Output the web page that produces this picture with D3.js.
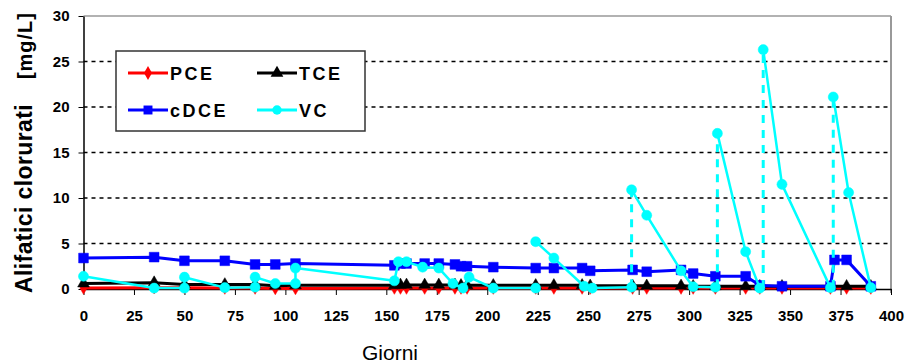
<!DOCTYPE html>
<html>
<head>
<meta charset="utf-8">
<script src="https://cdn.jsdelivr.net/npm/d3@7"></script>
<style>
  html, body { margin: 0; padding: 0; background: #fff; }
  svg { display: block; font-family: "Liberation Sans", Arial, sans-serif; }
</style>
</head>
<body>
<svg id="chart" width="909" height="364"></svg>
<script>
// ---- Data ----
const xTicks = [0, 25, 50, 75, 100, 125, 150, 175, 200, 225, 250, 275, 300, 325, 350, 375, 400];
const yTicks = [0, 5, 10, 15, 20, 25, 30];

const pceDays   = [0, 35, 50, 70, 85, 95, 105, 154, 157, 160, 169, 176, 184, 187, 190, 203, 224, 233, 247, 251, 272, 279, 296, 302, 313, 328, 335, 346, 370, 378, 390];
const pceValues = [0.1, 0.15, 0.15, 0.1, 0.1, 0.05, 0.05, 0.1, 0.1, 0.1, 0.1, 0.1, 0.1, 0.1, 0.1, 0.1, 0.1, 0.1, 0.1, 0.1, 0.1, 0.1, 0.1, 0.1, 0.1, 0.1, 0.1, 0.1, 0.1, 0.1, 0.1];

const tceDays   = [0, 35, 50, 70, 85, 95, 105, 154, 157, 160, 169, 176, 184, 187, 190, 203, 224, 233, 247, 251, 272, 279, 296, 302, 313, 328, 335, 346, 370, 378, 390];
const tceValues = [0.6, 0.7, 0.5, 0.5, 0.5, 0.35, 0.4, 0.4, 0.45, 0.45, 0.45, 0.45, 0.45, 0.4, 0.4, 0.4, 0.4, 0.4, 0.4, 0.35, 0.35, 0.35, 0.35, 0.3, 0.3, 0.3, 0.3, 0.3, 0.3, 0.3, 0.3];

const cdceDays   = [0, 35, 50, 70, 85, 95, 105, 154, 157, 160, 169, 176, 184, 187, 190, 203, 224, 233, 247, 251, 272, 279, 296, 302, 313, 328, 335, 346, 370, 372, 378, 390];
const cdceValues = [3.4, 3.5, 3.1, 3.1, 2.7, 2.7, 2.8, 2.6, 2.8, 2.8, 2.8, 2.8, 2.7, 2.5, 2.5, 2.4, 2.3, 2.3, 2.3, 2.0, 2.1, 1.9, 2.1, 1.7, 1.4, 1.4, 0.4, 0.3, 0.3, 3.2, 3.2, 0.3];

// VC: null values break the solid line
const vcDays   = [0, 35, 50, 50, 70, 85, 85, 95, 105, 105, 154, 156, 160, 168, 176, 183, 188, 191, 203, 224,
                  224, 224, 233, 248, 252, 271.5,
                  271.5, 271.5, 279, 296, 302, 313,
                  314, 314, 328, 335,
                  336.7, 336.7, 346, 370,
                  371.4, 371.4, 379, 390];
const vcValues = [1.4, 0.1, 0.1, 1.3, 0.15, 0.2, 1.3, 0.6, 0.6, 2.3, 0.9, 3.0, 3.0, 2.4, 2.3, 0.6, 0.1, 1.3, 0.1, 0.1,
                  null, 5.2, 3.4, 0.3, 0.1, 0.2,
                  null, 10.9, 8.1, 2.0, 0.25, 0.2,
                  null, 17.1, 4.1, 0.1,
                  null, 26.3, 11.5, 0.15,
                  null, 21.1, 10.6, 0.15];

// VC jumps drawn as dashed verticals
const vcJumpDays = [271.5, 314, 336.7, 371.4];
const vcJumpLow  = [0.2, 0.2, 0.1, 0.15];
const vcJumpHigh = [10.9, 17.1, 26.3, 21.1];

const seriesNames = ["PCE", "TCE", "cDCE", "VC"];

// ---- Layout ----
const svg = d3.select("#chart");
const mLeft = 83.5, mRight = 891, mTop = 16, mBottom = 289;
const x = d3.scaleLinear().domain([0, 400]).range([mLeft, mRight]);
const y = d3.scaleLinear().domain([0, 30]).range([mBottom, mTop]);

const zip = (a, b) => a.map((d, i) => ({ x: d, y: b[i] }));

// gridlines
svg.append("g").selectAll("line")
  .data(yTicks.filter(t => t > 0 && t < 30))
  .join("line")
  .attr("x1", mLeft).attr("x2", mRight)
  .attr("y1", d => y(d)).attr("y2", d => y(d))
  .attr("stroke", "#000").attr("stroke-width", 1.3)
  .attr("stroke-dasharray", "4,4");

// top & right border (gray)
svg.append("line").attr("x1", mLeft).attr("x2", mRight).attr("y1", y(30)).attr("y2", y(30))
  .attr("stroke", "#999").attr("stroke-width", 1.5);
svg.append("line").attr("x1", mRight).attr("x2", mRight).attr("y1", y(30)).attr("y2", mBottom + 4)
  .attr("stroke", "#999").attr("stroke-width", 2);

// axes
const xAxis = d3.axisBottom(x).tickValues(xTicks).tickSize(6).tickSizeOuter(0).tickPadding(15);
const yAxis = d3.axisLeft(y).tickValues(yTicks).tickSize(5).tickSizeOuter(0).tickPadding(9);

const gx = svg.append("g").attr("transform", `translate(0,${mBottom})`).call(xAxis);
const gy = svg.append("g").attr("transform", `translate(${mLeft},0)`).call(yAxis);
[gx, gy].forEach(g => {
  g.select(".domain").attr("stroke", "#000").attr("stroke-width", 1.5);
  g.selectAll(".tick line").attr("stroke", "#000").attr("stroke-width", 1);
  g.selectAll(".tick text").attr("fill", "#000").attr("font-weight", "bold")
    .attr("font-family", "'Liberation Sans', Arial, sans-serif");
});
gx.selectAll(".tick text").attr("font-size", 15);
gy.selectAll(".tick text").attr("font-size", 15);

// axis titles
svg.append("text").attr("x", 390).attr("y", 360).attr("text-anchor", "middle")
  .attr("font-size", 21).attr("fill", "#000").text("Giorni");
svg.append("text").attr("transform", `translate(32,293) rotate(-90)`)
  .attr("text-anchor", "start").attr("font-size", 23).attr("font-weight", "bold")
  .attr("fill", "#000").attr("letter-spacing", 0.4)
  .text("Alifatici clorurati");
svg.append("text").attr("transform", `translate(32,12) rotate(-90)`)
  .attr("text-anchor", "end").attr("font-size", 20).attr("font-weight", "bold")
  .attr("fill", "#000").attr("letter-spacing", 1)
  .text("[mg/L]");

// ---- Series ----
const line = d3.line().defined(d => d.y !== null).x(d => x(d.x)).y(d => y(d.y));
const plot = svg.append("g");

function drawLine(data, color, width) {
  plot.append("path").datum(data).attr("d", line)
    .attr("fill", "none").attr("stroke", color).attr("stroke-width", width)
    .attr("stroke-linejoin", "round");
}
function drawMarkers(data, type, size, color) {
  plot.append("g").selectAll("path").data(data.filter(d => d.y !== null)).join("path")
    .attr("transform", d => `translate(${x(d.x)},${y(d.y)})`)
    .attr("d", d3.symbol().type(type).size(size))
    .attr("fill", color).attr("stroke", color).attr("stroke-width", 0.5);
}

const pce = zip(pceDays, pceValues);
const tce = zip(tceDays, tceValues);
const cdce = zip(cdceDays, cdceValues);
const vc = zip(vcDays, vcValues);

drawLine(pce, "#ff0000", 3);
drawMarkers(pce, d3.symbolDiamond, 45, "#ff0000");
drawLine(tce, "#000000", 3);
drawMarkers(tce, d3.symbolTriangle, 60, "#000000");
drawLine(cdce, "#0000ff", 3);
drawMarkers(cdce, d3.symbolSquare, 95, "#0000ff");

// dashed VC jumps
plot.append("g").selectAll("line").data(vcJumpDays).join("line")
  .attr("x1", d => x(d)).attr("x2", d => x(d))
  .attr("y1", (d, i) => y(vcJumpLow[i])).attr("y2", (d, i) => y(vcJumpHigh[i]))
  .attr("stroke", "#00ffff").attr("stroke-width", 3).attr("stroke-dasharray", "8,7");

drawLine(vc, "#00ffff", 2.5);
drawMarkers(vc, d3.symbolCircle, 80, "#00ffff");

// ---- Legend ----
const lg = svg.append("g");
lg.append("rect").attr("x", 116).attr("y", 51).attr("width", 249).attr("height", 80)
  .attr("fill", "#fff").attr("stroke", "#333").attr("stroke-width", 1.5);

const legendItems = [
  { name: seriesNames[0], color: "#ff0000", sym: d3.symbolDiamond, size: 55, lx: 128, ly: 73 },
  { name: seriesNames[1], color: "#000000", sym: d3.symbolTriangle, size: 70, lx: 257, ly: 73 },
  { name: seriesNames[2], color: "#0000ff", sym: d3.symbolSquare, size: 80, lx: 128, ly: 110 },
  { name: seriesNames[3], color: "#00ffff", sym: d3.symbolCircle, size: 70, lx: 257, ly: 110 }
];
legendItems.forEach(it => {
  lg.append("line").attr("x1", it.lx).attr("x2", it.lx + 40).attr("y1", it.ly).attr("y2", it.ly)
    .attr("stroke", it.color).attr("stroke-width", 3);
  lg.append("path").attr("transform", `translate(${it.lx + 20},${it.ly})`)
    .attr("d", d3.symbol().type(it.sym).size(it.size)).attr("fill", it.color);
  lg.append("text").attr("x", it.lx + 42).attr("y", it.ly + 6.5)
    .attr("font-size", 18).attr("font-weight", "bold").attr("letter-spacing", 2.5)
    .attr("fill", "#000").text(it.name);
});
</script>
</body>
</html>
